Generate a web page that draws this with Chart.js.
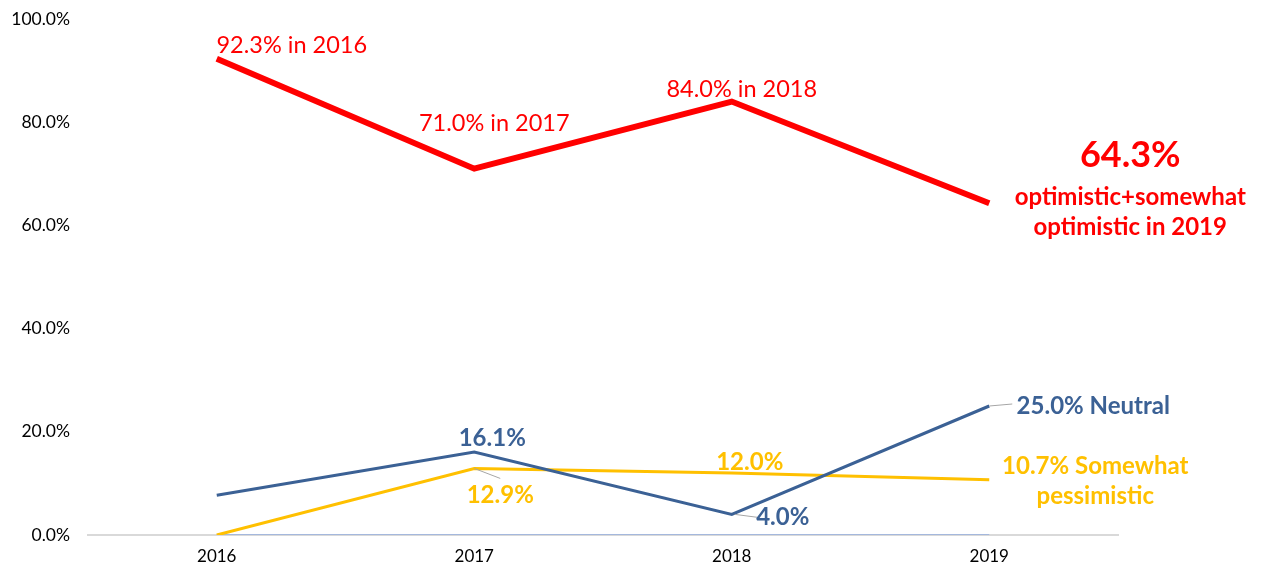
<!DOCTYPE html>
<html><head><meta charset="utf-8">
<script src="https://cdn.jsdelivr.net/npm/chart.js@4/dist/chart.umd.min.js"></script>
<style>html,body{margin:0;padding:0;background:#fff}#wrap{width:1261px;height:571px}</style>
</head><body><div id="wrap"><canvas id="c" width="1261" height="571"></canvas></div>
<script>
const categories = ['2016', '2017', '2018', '2019'];
const optimistic = [92.3, 71.0, 84.0, 64.3];
const neutral = [7.7, 16.1, 4.0, 25.0];
const somewhatPessimistic = [0, 12.9, 12.0, 10.7];
const pessimistic = [0, 0, 0, 0];
const yTicks = [0, 20, 40, 60, 80, 100];

const FONT = 'Lato, "Open Sans", sans-serif';
const RED = '#FF0000', BLUE = '#3B6195', YEL = '#FFC000', LBLUE = '#A4B8DD';

const notes = [
  {ds:0, i:0, dx:75, dy:-13, t:'92.3% in 2016', c:RED, s:23.5, w:'normal'},
  {ds:0, i:1, dx:20, dy:-45, t:'71.0% in 2017', c:RED, s:23.5, w:'normal'},
  {ds:0, i:2, dx:10, dy:-12, t:'84.0% in 2018', c:RED, s:23.5, w:'normal'},
  {ds:0, i:3, dx:141, dy:-48, t:'64.3%', c:RED, s:36, w:'bold'},
  {ds:0, i:3, dx:141, dy:-6, t:'optimistic+somewhat', c:RED, s:24, w:'bold'},
  {ds:0, i:3, dx:141, dy:24, t:'optimistic in 2019', c:RED, s:24, w:'bold'},
  {ds:1, i:1, dx:18, dy:-14, t:'16.1%', c:BLUE, s:24, w:'bold'},
  {ds:1, i:2, dx:51, dy:3, t:'4.0%', c:BLUE, s:24, w:'bold', lead:[3,0,26,3]},
  {ds:1, i:3, dx:104, dy:0, t:'25.0% Neutral', c:BLUE, s:24, w:'bold', lead:[0,0,23,-2]},
  {ds:2, i:1, dx:26, dy:27, t:'12.9%', c:YEL, s:24, w:'bold', lead:[0,0,26,10]},
  {ds:2, i:2, dx:18, dy:-11, t:'12.0%', c:YEL, s:24, w:'bold'},
  {ds:2, i:3, dx:106, dy:-14, t:'10.7% Somewhat', c:YEL, s:24, w:'bold'},
  {ds:2, i:3, dx:106, dy:16, t:'pessimistic', c:YEL, s:24, w:'bold'}
];

const notePlugin = {
  id: 'notes',
  afterDatasetsDraw(chart) {
    const ctx = chart.ctx;
    ctx.save();
    notes.forEach(n => {
      const pt = chart.getDatasetMeta(n.ds).data[n.i];
      if (n.lead) {
        ctx.strokeStyle = '#A6A6A6'; ctx.lineWidth = 1;
        ctx.beginPath();
        ctx.moveTo(pt.x + n.lead[0], pt.y + n.lead[1]);
        ctx.lineTo(pt.x + n.lead[2], pt.y + n.lead[3]);
        ctx.stroke();
      }
      ctx.font = n.w + ' ' + n.s + 'px ' + FONT;
      ctx.fillStyle = n.c;
      ctx.textAlign = 'center';
      ctx.textBaseline = 'middle';
      ctx.fillText(n.t, pt.x + n.dx, pt.y + n.dy);
    });
    ctx.restore();
  }
};

new Chart(document.getElementById('c'), {
  type: 'line',
  data: {
    labels: categories,
    datasets: [
      {label:'Optimistic+somewhat optimistic', data: optimistic, borderColor: RED, borderWidth: 6, pointRadius: 0, tension: 0},
      {label:'Neutral', data: neutral, borderColor: BLUE, borderWidth: 3, pointRadius: 0, tension: 0},
      {label:'Somewhat pessimistic', data: somewhatPessimistic, borderColor: YEL, borderWidth: 3, pointRadius: 0, tension: 0},
      {label:'Pessimistic', data: pessimistic, borderColor: LBLUE, borderWidth: 2, pointRadius: 0, tension: 0}
    ]
  },
  options: {
    responsive: false,
    animation: false,
    layout: {padding: {left: 0, right: 143, top: 19, bottom: 0}},
    plugins: {legend: {display: false}, tooltip: {enabled: false}},
    scales: {
      x: {
        offset: true,
        grid: {display: false, drawTicks: false},
        border: {display: true, color: '#D9D9D9', width: 2},
        ticks: {color: '#000', font: {family: FONT, size: 17}, padding: 11},
        afterFit(s) { s.height = 36; s.paddingLeft = 0; s.paddingRight = 0; }
      },
      y: {
        min: 0, max: 100,
        grid: {display: false, drawTicks: false},
        border: {display: false},
        afterBuildTicks(s) { s.ticks = yTicks.map(v => ({value: v})); },
        ticks: {color: '#000', font: {family: FONT, size: 17.5}, padding: 18,
          callback: v => v.toFixed(1) + '%'},
        afterFit(s) { s.width = 88; s.paddingTop = 0; s.paddingBottom = 0; }
      }
    }
  },
  plugins: [notePlugin]
});
</script></body></html>
